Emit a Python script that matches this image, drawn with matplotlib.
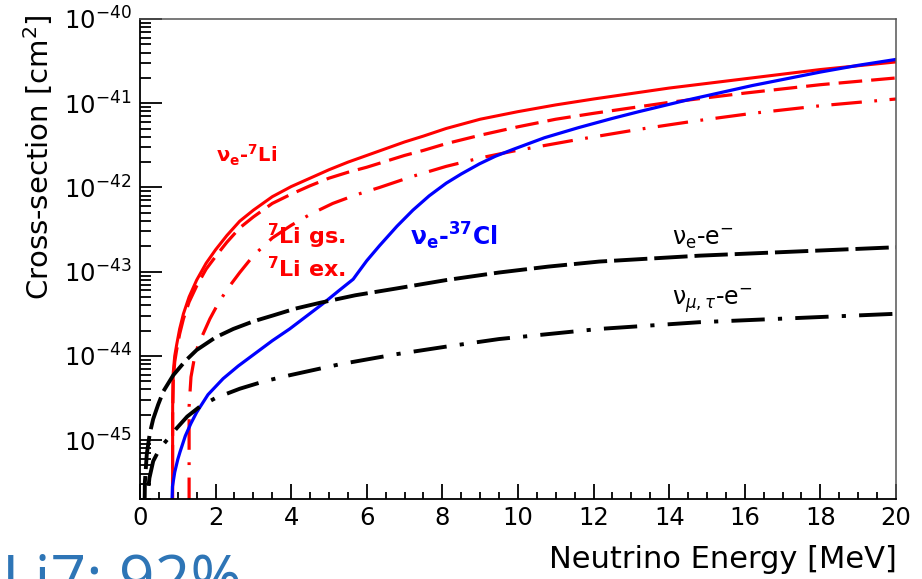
import numpy as np
import matplotlib
matplotlib.use("Agg")
import matplotlib.pyplot as plt
from matplotlib.ticker import LogLocator, MultipleLocator, NullFormatter

plt.rcParams['font.family'] = ['DejaVu Sans']
plt.rcParams['lines.scale_dashes'] = False

# neutrino energy [MeV] and log10 of cross-section [cm^2]
li7_total_e = [0.86, 0.865, 0.88, 0.92, 0.97, 1.05, 1.15, 1.3, 1.5, 1.75, 2.0, 2.3,
               2.64, 3.0, 3.5, 4.0, 4.5, 5.0, 5.5, 6.0, 6.5, 7.0, 7.5, 8.1, 9.0,
               10.0, 11.0, 12.0, 14.0, 16.0, 18.0, 20.0]
li7_total_log = [-46.5, -44.6, -44.2, -44.0, -43.87, -43.68, -43.50, -43.30, -43.10,
                 -42.90, -42.74, -42.57, -42.40, -42.27, -42.11, -41.99, -41.89,
                 -41.79, -41.70, -41.62, -41.54, -41.46, -41.39, -41.30, -41.19,
                 -41.10, -41.02, -40.95, -40.82, -40.71, -40.60, -40.51]

li7_gs_e = li7_total_e
li7_gs_log = [-46.5, -44.7, -44.3, -44.07, -43.93, -43.74, -43.56, -43.36, -43.17,
              -42.97, -42.82, -42.65, -42.48, -42.35, -42.19, -42.08, -41.98, -41.89,
              -41.82, -41.76, -41.69, -41.62, -41.56, -41.48, -41.38, -41.28, -41.19,
              -41.12, -40.99, -40.88, -40.78, -40.70]

li7_ex_e = [1.30, 1.30, 1.35, 1.45, 1.55, 1.67, 1.85, 2.03, 2.29, 2.64, 3.0, 3.5,
            4.0, 4.5, 5.1, 5.7, 6.34, 7.2, 8.1, 9.0, 9.86, 11.6, 13.2, 14.7, 16.2,
            18.0, 20.0]
li7_ex_log = [-46.5, -44.6, -44.25, -44.0, -43.86, -43.74, -43.56, -43.41, -43.22,
              -43.01, -42.81, -42.60, -42.45, -42.32, -42.19, -42.09, -42.00, -41.87,
              -41.75, -41.65, -41.57, -41.43, -41.31, -41.21, -41.12, -41.03, -40.95]

cl37_e = [0.83, 0.86, 0.92, 1.0, 1.06, 1.2, 1.35, 1.5, 1.8, 2.2, 2.6, 3.08, 3.5,
          3.96, 4.4, 4.84, 5.25, 5.64, 5.77, 6.0, 6.34, 6.8, 7.22, 7.65, 8.1, 8.5,
          8.98, 9.4, 9.86, 10.7, 11.6, 12.5, 13.2, 14.4, 15.3, 16.2, 17.1, 18.0,
          19.0, 20.0]
cl37_log = [-46.0, -45.55, -45.38, -45.23, -45.14, -44.95, -44.80, -44.67, -44.46,
            -44.27, -44.12, -43.96, -43.82, -43.68, -43.53, -43.38, -43.23, -43.09,
            -43.01, -42.87, -42.69, -42.46, -42.27, -42.10, -41.95, -41.84, -41.72,
            -41.63, -41.55, -41.41, -41.29, -41.18, -41.10, -40.97, -40.88, -40.79,
            -40.71, -40.63, -40.55, -40.48]

nue_e_e = [0.11, 0.13, 0.18, 0.26, 0.35, 0.48, 0.62, 0.88, 1.2, 1.5, 2.0, 2.47, 3.0,
           3.52, 4.1, 4.76, 5.7, 6.78, 8.1, 9.5, 10.8, 12.15, 14.8, 17.4, 20.0]
nue_e_log = [-46.3, -45.5, -45.17, -44.92, -44.75, -44.58, -44.42, -44.23, -44.06,
             -43.93, -43.78, -43.68, -43.59, -43.52, -43.44, -43.37, -43.28, -43.20,
             -43.10, -43.01, -42.94, -42.88, -42.81, -42.76, -42.71]

numutau_e_e = [0.12, 0.17, 0.25, 0.35, 0.5, 0.62, 0.8, 0.97, 1.25, 1.59, 2.0, 2.64,
               3.3, 3.96, 5.28, 6.78, 8.1, 9.5, 12.15, 14.8, 17.4, 20.0]
numutau_e_log = [-46.3, -45.8, -45.45, -45.25, -45.12, -45.05, -44.95, -44.86, -44.72,
                 -44.60, -44.50, -44.39, -44.30, -44.23, -44.10, -43.98, -43.89,
                 -43.80, -43.68, -43.60, -43.55, -43.50]

fig = plt.figure(figsize=(9.22, 5.79), dpi=100)
ax = fig.add_axes([0.1518, 0.1382, 0.82, 0.829])

ax.plot(li7_total_e, np.power(10.0, li7_total_log), color='#ff0000', lw=2.2)
ax.plot(li7_gs_e, np.power(10.0, li7_gs_log), color='#ff0000', lw=2.3, dashes=(17, 6.5))
ax.plot(li7_ex_e, np.power(10.0, li7_ex_log), color='#ff0000', lw=2.3,
        dashes=(22, 9, 2, 9))
ax.plot(cl37_e, np.power(10.0, cl37_log), color='#0000ff', lw=2.3)
ax.plot(nue_e_e, np.power(10.0, nue_e_log), color='black', lw=2.8, dashes=(24, 5))
ax.plot(numutau_e_e, np.power(10.0, numutau_e_log), color='black', lw=2.8,
        dashes=(24, 9.5, 3, 9.5))

ax.set_yscale('log')
ax.set_xlim(0, 20)
ax.set_ylim(2e-46, 1e-40)

ax.xaxis.set_major_locator(MultipleLocator(2))
ax.xaxis.set_minor_locator(MultipleLocator(0.5))
ax.yaxis.set_major_locator(LogLocator(base=10, numticks=20))
ax.yaxis.set_minor_locator(LogLocator(base=10, subs=range(2, 10), numticks=100))
ax.yaxis.set_minor_formatter(NullFormatter())

ax.tick_params(axis='both', which='both', direction='in', top=False, right=False,
               width=1.3, color='black', labelsize=17.5)
ax.tick_params(axis='y', which='major', length=16, pad=6)
ax.tick_params(axis='y', which='minor', length=8)
ax.tick_params(axis='x', which='major', length=10.5, pad=5)
ax.tick_params(axis='x', which='minor', length=5)

for side in ['left', 'bottom']:
    ax.spines[side].set_linewidth(1.3)
for side in ['top', 'right']:
    ax.spines[side].set_linewidth(1.1)
    ax.spines[side].set_color('#555555')

fig.text(38 / 922, 1 - 14 / 579, 'Cross-section [cm$^2$]', rotation=90,
         ha='center', va='top', fontsize=21)
fig.text(897 / 922, 1 - 568 / 579, 'Neutrino Energy [MeV]', ha='right',
         va='baseline', fontsize=22)

# curve labels
ax.text(0.1005, 0.702, r'ν$_\mathbf{e}$-$^\mathbf{7}$Li', color='#ff0000',
        fontsize=14, fontweight='bold', transform=ax.transAxes, va='baseline')
ax.text(0.168, 0.531, r'$^\mathbf{7}$Li gs.', color='#ff0000', fontsize=16,
        fontweight='bold', transform=ax.transAxes, va='baseline')
ax.text(0.168, 0.4625, r'$^\mathbf{7}$Li ex.', color='#ff0000', fontsize=16,
        fontweight='bold', transform=ax.transAxes, va='baseline')
ax.text(0.357, 0.529, r'ν$_\mathbf{e}$-$^\mathbf{37}$Cl', color='#0000ff',
        fontsize=17, fontweight='bold', transform=ax.transAxes, va='baseline')
ax.text(0.704, 0.529, r'ν$_\mathrm{e}$-e$^{-}$', color='black', fontsize=17,
        transform=ax.transAxes, va='baseline')
ax.text(0.704, 0.404, r'ν$_{\mu,\tau}$-e$^{-}$', color='black', fontsize=17,
        transform=ax.transAxes, va='baseline')

# slide text cut off at the bottom edge
fig.text(2 / 922, 1 - 600 / 579, 'Li7: 92%', color='#2e75b6', fontsize=45,
         family=['Open Sans', 'DejaVu Sans'], ha='left', va='baseline')

fig.savefig('out.png', dpi=100)
